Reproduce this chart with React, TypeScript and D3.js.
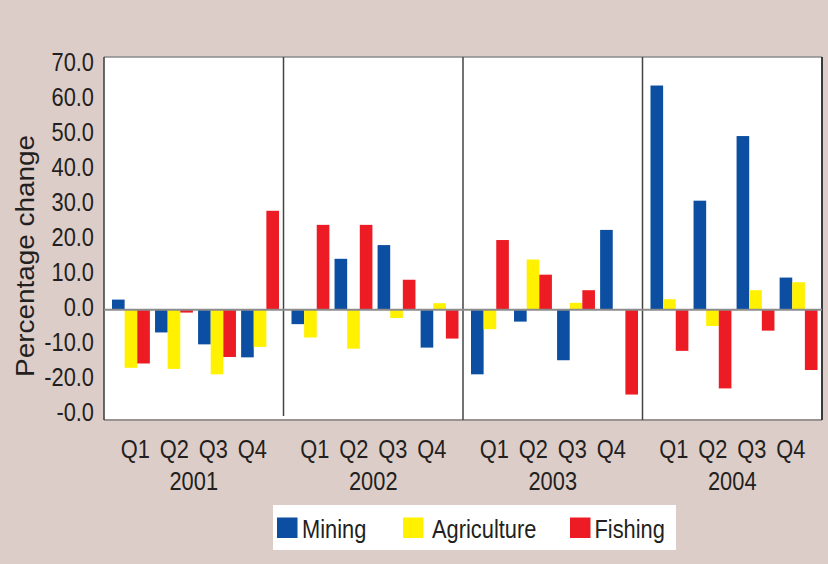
import React from "react";
import * as d3 from "d3";

const years = ["2001", "2002", "2003", "2004"];
const quarters = ["Q1", "Q2", "Q3", "Q4"];
const seriesNames = ["Mining", "Agriculture", "Fishing"];
const seriesColors = ["#0c4ea2", "#fff100", "#ed1c24"];

// values per quarter, 2001 Q1 ... 2004 Q4
const mining = [2.8, -6.3, -9.6, -13.2, -4.0, 14.1, 17.9, -10.5, -17.9, -3.3, -14.0, 22.1, 62.1, 30.2, 48.1, 8.9];
const agriculture = [-16.1, -16.4, -17.9, -10.3, -7.7, -10.8, -2.3, 1.8, -5.4, 13.9, 1.9, 0, 2.9, -4.5, 5.4, 7.6];
const fishing = [-14.9, -0.8, -13.1, 27.4, 23.5, 23.5, 8.3, -8.0, 19.3, 9.7, 5.4, -23.5, -11.4, -21.8, -5.8, -16.7];

const tickValues = [70, 60, 50, 40, 30, 20, 10, 0, -10, -20, -30];
const tickLabels = ["70.0", "60.0", "50.0", "40.0", "30.0", "20.0", "10.0", "0.0", "-10.0", "-20.0", "-0.0"];

const W = 828;
const H = 564;
const plot = { left: 104, right: 822, top: 57, bottom: 420 };
const FONT = "'Liberation Sans', Arial, sans-serif";
const TEXT = "#231f20";
const CONDENSE = 0.84;

function CText(props: {
  x: number;
  y: number;
  anchor?: "start" | "middle" | "end";
  baseline?: string;
  size?: number;
  children: React.ReactNode;
}) {
  const { x, y, anchor = "start", baseline, size = 26, children } = props;
  return (
    <g transform={`translate(${x},${y}) scale(${CONDENSE},1)`}>
      <text
        x={0}
        y={0}
        textAnchor={anchor}
        dominantBaseline={baseline as any}
        fontSize={size}
        fill={TEXT}
      >
        {children}
      </text>
    </g>
  );
}

export default function App() {
  const y = d3.scaleLinear().domain([-30, 70]).range([418, 57]);
  const labelY = d3.scaleLinear().domain([70, -30]).range([62, 412]);
  const xYear = d3.scaleBand().domain(years).range([plot.left, plot.right]);
  const seriesData = [mining, agriculture, fishing];

  const bars: React.ReactElement[] = [];
  years.forEach((yr, yi) => {
    const x0 = xYear(yr)!;
    const xQ = d3.scaleBand().domain(quarters).range([x0 + 8, x0 + 175]).paddingInner(0.12);
    const xS = d3.scaleBand().domain(seriesNames).range([0, xQ.bandwidth()]);
    quarters.forEach((q, qi) => {
      seriesNames.forEach((s, si) => {
        const v = seriesData[si][yi * 4 + qi];
        if (v === 0) return;
        const y1 = y(Math.max(0, v));
        const y2 = y(Math.min(0, v));
        bars.push(
          <rect
            key={`${yr}-${q}-${s}`}
            x={xQ(q)! + xS(s)!}
            y={y1}
            width={xS.bandwidth()}
            height={y2 - y1}
            fill={seriesColors[si]}
          />
        );
      });
    });
  });

  const legendItems = [
    { sx: 277, tx: 302 },
    { sx: 403, tx: 432 },
    { sx: 570, tx: 594.5 },
  ];

  return (
    <svg width={W} height={H} style={{ position: "absolute", left: 0, top: 0 }} fontFamily={FONT}>
      <rect x={0} y={0} width={W} height={H} fill="#dccdc9" />
      <rect x={plot.left} y={plot.top} width={plot.right - plot.left} height={plot.bottom - plot.top} fill="#ffffff" />
      {/* borders */}
      <line x1={plot.left} x2={plot.right} y1={plot.top} y2={plot.top} stroke="#8a8a8a" strokeWidth={1.5} />
      <line x1={plot.left} x2={plot.right} y1={plot.bottom} y2={plot.bottom} stroke="#9a9393" strokeWidth={2} />
      <line x1={plot.left} x2={plot.left} y1={plot.top} y2={plot.bottom} stroke="#3a3a3a" strokeWidth={1.5} />
      <line x1={plot.right} x2={plot.right} y1={plot.top} y2={plot.bottom} stroke="#3a3a3a" strokeWidth={2} />
      {years.slice(1).map((yr, i) => (
        <line
          key={yr}
          x1={xYear(yr)!}
          x2={xYear(yr)!}
          y1={plot.top}
          y2={i === 0 ? 416 : plot.bottom}
          stroke="#444"
          strokeWidth={1.5}
        />
      ))}
      {bars}
      <line x1={plot.left} x2={plot.right} y1={y(0)} y2={y(0)} stroke="#8c8c8c" strokeWidth={2} />
      {/* y tick labels */}
      {tickValues.map((v, i) => (
        <CText key={v} x={94} y={labelY(v)} anchor="end" baseline="central">
          {tickLabels[i]}
        </CText>
      ))}
      <text
        transform={`translate(25,256) rotate(-90)`}
        textAnchor="middle"
        dominantBaseline="central"
        fontSize={25}
        fill={TEXT}
        textLength={242}
        lengthAdjust="spacingAndGlyphs"
      >
        Percentage change
      </text>
      {/* x labels */}
      {years.map((yr) => {
        const cx = xYear(yr)! + xYear.bandwidth() / 2;
        const xq = d3.scalePoint().domain(quarters).range([cx - 58.5, cx + 58.5]);
        return (
          <g key={yr}>
            {quarters.map((q) => (
              <CText key={q} x={xq(q)!} y={458} anchor="middle">
                {q}
              </CText>
            ))}
            <CText x={cx} y={490} anchor="middle">
              {yr}
            </CText>
          </g>
        );
      })}
      {/* legend */}
      <rect x={273} y={505} width={403} height={45} fill="#ffffff" />
      {seriesNames.map((s, i) => (
        <g key={s}>
          <rect x={legendItems[i].sx} y={517.5} width={20.5} height={20.5} fill={seriesColors[i]} />
          <CText x={legendItems[i].tx} y={538}>
            {s}
          </CText>
        </g>
      ))}
    </svg>
  );
}
